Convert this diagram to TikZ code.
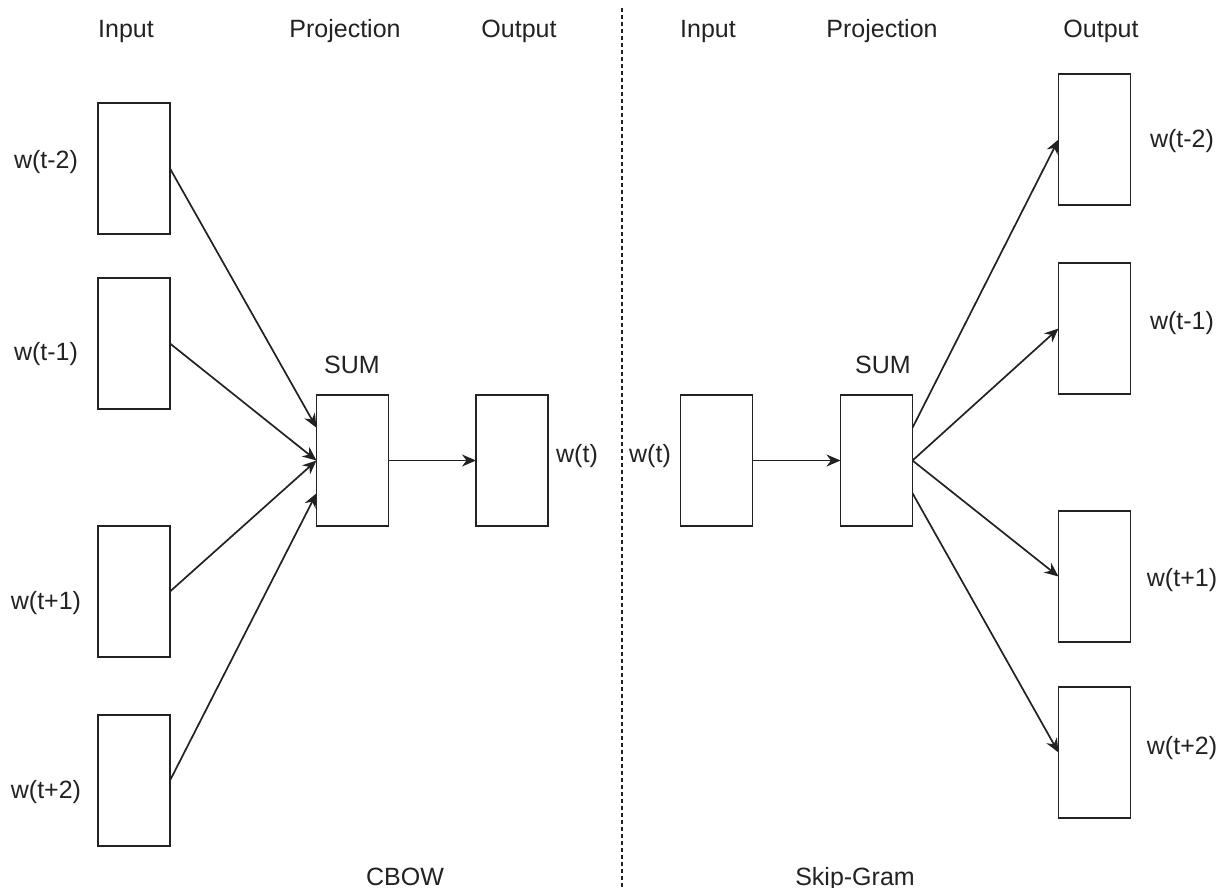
\documentclass[tikz,border=0pt]{standalone}
\usepackage{fontspec}
\setmainfont{Liberation Sans}
\usetikzlibrary{arrows.meta,calc}
\definecolor{ink}{HTML}{222222}
\begin{document}
\begin{tikzpicture}[x=1pt,y=-1pt,
  vec/.style={draw=ink,line width=1.8pt,minimum width=72pt,minimum height=131pt,inner sep=0pt,outer sep=0pt,fill=white},
  lbl/.style={text=ink,font=\fontsize{25}{30}\selectfont,anchor=base,inner sep=0pt},
  conn/.style={draw=ink,line width=1.7pt,-{Stealth[length=14pt,width=12pt,inset=4.5pt]}},
  divider/.style={draw=ink,line width=1.3pt,dash pattern=on 4pt off 3pt}]
\useasboundingbox (0,0) rectangle (1221,888);

% divider between the two models
\coordinate (dtop) at (622,8);
\coordinate (dbot) at (622,888);
\draw[divider] (dtop) -- (dbot);

% column headings
\node[lbl] (hInL)  at (126,38) {Input};
\node[lbl] (hPrL)  at (345,38) {Projection};
\node[lbl] (hOutL) at (519,38) {Output};
\node[lbl] (hInR)  at (708,38) {Input};
\node[lbl] (hPrR)  at (882,38) {Projection};
\node[lbl] (hOutR) at (1101,38) {Output};

% CBOW
\node[vec] (in1) at (134,168.5) {};
\node[vec] (in2) at (134,343.5) {};
\node[vec] (in3) at (134,591.5) {};
\node[vec] (in4) at (134,780.5) {};
\node[vec] (sumL) at (352.5,460.5) {};
\node[vec] (outL) at (512,460.5) {};

\node[lbl] (lin1) at (46,168) {w(t-2)};
\node[lbl] (lin2) at (46,360) {w(t-1)};
\node[lbl] (lin3) at (46,609) {w(t+1)};
\node[lbl] (lin4) at (46,798) {w(t+2)};
\node[lbl] (lsumL) at (352,373) {SUM};
\node[lbl] (loutL) at (577,462) {w(t)};
\node[lbl] (cbow) at (405,885) {CBOW};

\draw[conn] (in1.east) -- ($(sumL.north west)!0.25!(sumL.south west)$);
\draw[conn] (in2.east) -- (sumL.west);
\draw[conn] (in3.east) -- (sumL.west);
\draw[conn] (in4.east) -- ($(sumL.north west)!0.75!(sumL.south west)$);
\draw[conn] (sumL.east) -- (outL.west);

% Skip-Gram
\node[vec] (inR) at (716.5,460.5) {};
\node[vec] (sumR) at (876.5,460.5) {};
\node[vec] (o1) at (1094.5,139.5) {};
\node[vec] (o2) at (1094.5,328.5) {};
\node[vec] (o3) at (1094.5,576.5) {};
\node[vec] (o4) at (1094.5,752.5) {};

\node[lbl] (linR) at (650,462) {w(t)};
\node[lbl] (lsumR) at (883,373) {SUM};
\node[lbl] (lo1) at (1182,148) {w(t-2)};
\node[lbl] (lo2) at (1182,329) {w(t-1)};
\node[lbl] (lo3) at (1182,586) {w(t+1)};
\node[lbl] (lo4) at (1182,754) {w(t+2)};
\node[lbl] (skip) at (855,885) {Skip-Gram};

\draw[conn] (inR.east) -- (sumR.west);
\draw[conn] ($(sumR.north east)!0.25!(sumR.south east)$) -- (o1.west);
\draw[conn] (sumR.east) -- (o2.west);
\draw[conn] (sumR.east) -- (o3.west);
\draw[conn] ($(sumR.north east)!0.75!(sumR.south east)$) -- (o4.west);
\end{tikzpicture}
\end{document}
